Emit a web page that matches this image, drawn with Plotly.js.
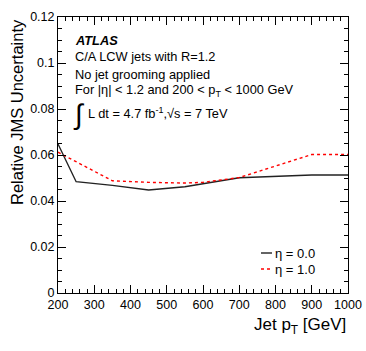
<!DOCTYPE html>
<html>
<head>
<meta charset="utf-8">
<script src="https://cdn.plot.ly/plotly-3.0.1.min.js"></script>
<style>
  html, body { margin: 0; padding: 0; background: #fff; }
  #chart { width: 366px; height: 351px; }
</style>
</head>
<body>
<div id="chart"></div>
<script>
const ptEta0 = [200, 250, 350, 450, 550, 700, 900, 1000]
const jmsEta0 = [0.0648, 0.0484, 0.0468, 0.0448, 0.0462, 0.0501, 0.0513, 0.0513]

const ptEta1 = [200, 250, 350, 450, 550, 600, 700, 900, 1000]
const jmsEta1 = [0.0612, 0.0570, 0.0488, 0.0481, 0.0478, 0.0481, 0.0502, 0.0602, 0.0602]

const seriesNames = ['η = 0.0', 'η = 1.0']

const FONT = 'Liberation Sans, Arial, Helvetica, sans-serif'

const data = [
  {
    x: ptEta0,
    y: jmsEta0,
    mode: 'lines',
    name: seriesNames[0],
    line: { color: '#222222', width: 1.4 }
  },
  {
    x: ptEta1,
    y: jmsEta1,
    mode: 'lines',
    name: seriesNames[1],
    line: { color: '#ff0000', width: 1.4, dash: 'dot' }
  }
]

const textLines = [
  { text: '<b><i>ATLAS</i></b>', y: 40 },
  { text: 'C/A LCW jets with R=1.2', y: 57 },
  { text: 'No jet grooming applied', y: 74 },
  { text: 'For |η| < 1.2 and 200 < p<sub>T</sub> < 1000 GeV', y: 91 }
]

// paper coords from pixel positions inside the plot box
const plotL = 58, plotR = 348, plotT = 17, plotB = 293
const px = x => (x - plotL) / (plotR - plotL)
const py = y => (plotB - y) / (plotB - plotT)

const annotations = textLines.map(t => ({
  xref: 'paper', yref: 'paper',
  x: px(73), y: py(t.y),
  xanchor: 'left', yanchor: 'middle',
  text: t.text, showarrow: false,
  font: { family: FONT, size: 12.8, color: '#000' }
}))

annotations.push({
  xref: 'paper', yref: 'paper', x: px(71), y: py(114),
  xanchor: 'left', yanchor: 'middle', text: '∫', showarrow: false,
  font: { family: FONT, size: 28, color: '#000' }
})
annotations.push({
  xref: 'paper', yref: 'paper', x: px(86), y: py(113),
  xanchor: 'left', yanchor: 'middle',
  text: 'L dt = 4.7 fb<sup>-1</sup>,√s = 7 TeV', showarrow: false,
  font: { family: FONT, size: 12.8, color: '#000' }
})

// axis titles, right/top aligned like ROOT
annotations.push({
  xref: 'paper', yref: 'paper', x: 1, y: py(326),
  xanchor: 'right', yanchor: 'middle',
  text: 'Jet p<sub>T</sub> [GeV]', showarrow: false,
  font: { family: FONT, size: 17, color: '#000' }
})
annotations.push({
  xref: 'paper', yref: 'paper', x: px(17), y: 1,
  xanchor: 'center', yanchor: 'top', textangle: -90,
  text: 'Relative JMS Uncertainty', showarrow: false,
  font: { family: FONT, size: 16.5, color: '#000' }
})

// legend entries
const legendY = [253, 269]
const shapes = []
seriesNames.forEach((name, i) => {
  annotations.push({
    xref: 'paper', yref: 'paper', x: px(273), y: py(legendY[i]),
    xanchor: 'left', yanchor: 'middle', text: name, showarrow: false,
    font: { family: FONT, size: 13, color: '#000' }
  })
  shapes.push({
    type: 'line', xref: 'paper', yref: 'paper',
    x0: px(261), x1: px(272), y0: py(legendY[i]), y1: py(legendY[i]),
    line: data[i].line
  })
})

const axisCommon = {
  showline: true,
  linecolor: '#000',
  linewidth: 1,
  mirror: 'ticks',
  ticks: 'inside',
  tickcolor: '#000',
  tickwidth: 1,
  ticklen: 8,
  showgrid: false,
  zeroline: false,
  tickfont: { family: FONT, size: 12.5, color: '#000' }
}

const layout = {
  width: 366,
  height: 351,
  margin: { l: plotL, r: 366 - plotR, t: plotT, b: 351 - plotB },
  paper_bgcolor: '#fff',
  plot_bgcolor: '#fff',
  showlegend: false,
  xaxis: Object.assign({}, axisCommon, {
    range: [200, 1000],
    dtick: 100,
    tick0: 200,
    minor: { dtick: 20, ticks: 'inside', ticklen: 4, tickcolor: '#000' }
  }),
  yaxis: Object.assign({}, axisCommon, {
    range: [0, 0.12],
    dtick: 0.02,
    tick0: 0,
    minor: { dtick: 0.005, ticks: 'inside', ticklen: 4, tickcolor: '#000' }
  }),
  annotations,
  shapes
}

Plotly.newPlot('chart', data, layout, { displayModeBar: false, staticPlot: true })
</script>
</body>
</html>
